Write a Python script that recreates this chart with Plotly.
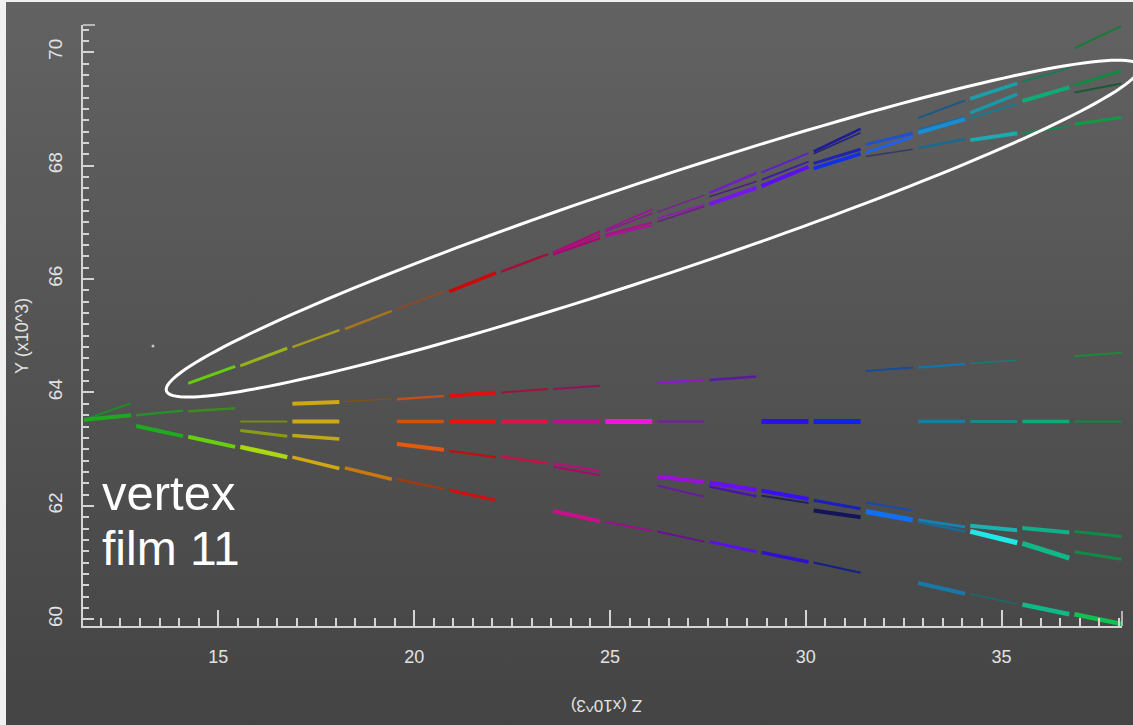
import base64
import math
import plotly.graph_objects as go

# ---------------------------------------------------------------------------
# Geometry of the emulsion stack: start of each film along Z (x10^3 um)
# ---------------------------------------------------------------------------
film_z = [11.57, 12.90, 14.23, 15.56, 16.89, 18.23, 19.56, 20.89, 22.22, 23.55,
          24.88, 26.21, 27.54, 28.87, 30.20, 31.53, 32.87, 34.20, 35.53, 36.86]
film_len = 1.20

x_ticks = [15, 20, 25, 30, 35]
y_ticks = [60, 62, 64, 66, 68, 70]
x_range = [11.544, 38.075]
y_range = [59.882, 70.48]

# ---------------------------------------------------------------------------
# Reconstructed base-tracks: film index, Y at film entry, Y at film exit
# ---------------------------------------------------------------------------
# forward bundle (the highlighted shower)
a_film = [0, 2, 3, 4, 5, 6, 7, 8,
          9, 9, 9,
          10, 10, 10, 10,
          11, 11, 11,
          12, 12, 12,
          13, 13, 13,
          14, 14, 14, 14,
          15, 15, 15,
          16, 16, 16, 16,
          17, 17, 17, 17,
          18, 18, 18,
          19, 19, 19, 19]
a_y_in = [63.52, 64.16, 64.47, 64.80, 65.12, 65.47, 65.78, 66.13,
          66.47, 66.45, 66.43,
          66.87, 66.84, 66.78, 66.75,
          67.18, 67.07, 67.01,
          67.52, 67.45, 67.32,
          67.88, 67.75, 67.64,
          68.25, 68.21, 68.04, 67.95,
          68.37, 68.23, 68.16,
          68.84, 68.63, 68.58, 68.31,
          69.18, 68.93, 68.84, 68.45,
          69.48, 69.14, 68.58,
          70.07, 69.42, 69.29, 68.73]
a_y_out = [63.81, 64.46, 64.78, 65.10, 65.44, 65.78, 66.11, 66.44,
           66.84, 66.78, 66.72,
           67.23, 67.16, 67.00, 66.95,
           67.48, 67.31, 67.28,
           67.87, 67.72, 67.61,
           68.22, 68.07, 67.98,
           68.65, 68.58, 68.29, 68.21,
           68.57, 68.51, 68.29,
           69.15, 68.86, 68.82, 68.47,
           69.45, 69.26, 69.09, 68.57,
           69.72, 69.38, 68.69,
           70.46, 69.67, 69.45, 68.85]
a_color = ["#1f8a2a", "#66cc11", "#99b11c", "#a89a1e", "#a8731e", "#8a4a26", "#cc0808", "#a0123a",
           "#aa0a77", "#b0107a", "#a00a70",
           "#a0109a", "#8a1a8a", "#a81088", "#b0109a",
           "#7a2090", "#8a22a8", "#6a2080",
           "#7020c0", "#50207a", "#7418e8",
           "#5a22c8", "#40209a", "#5a10f0",
           "#1a1a9a", "#22227a", "#2222b0", "#1030e8",
           "#2050d0", "#2260e8", "#333a66",
           "#1a5a88", "#1a6aa0", "#1a8cd0", "#1a6a90",
           "#1aa0a8", "#1a98a8", "#1a7a90", "#1aaab0",
           "#1a7a58", "#10aa78", "#138855",
           "#1a7a3a", "#108a40", "#1a5a38", "#109a44"]
a_width = [2, 3, 3, 2.5, 2.5, 2, 3.5, 2.5,
           2, 2.5, 2,
           1.5, 1.5, 2, 2,
           1.5, 2, 1.5,
           2.5, 1.5, 4,
           2, 2, 4,
           2.5, 1.5, 3, 3.5,
           3, 3, 1.5,
           2, 2, 4, 2.5,
           3.5, 3.5, 2, 4,
           2, 4, 2,
           2, 3, 2, 3]

# slightly rising track
b_film = [0, 1, 2, 4, 5, 6, 7, 8, 9, 11, 12, 15, 16, 17, 19]
b_y_in = [63.52, 63.60, 63.67, 63.80, 63.84, 63.88, 63.94, 64.00, 64.06,
          64.17, 64.22, 64.38, 64.44, 64.51, 64.64]
b_y_out = [63.60, 63.68, 63.72, 63.83, 63.89, 63.94, 64.00, 64.06, 64.12,
           64.22, 64.28, 64.44, 64.50, 64.57, 64.70]
b_color = ["#1fa81f", "#2a8f2a", "#3f8a1c", "#d0a812", "#7a5418", "#c0501a", "#e01010",
           "#a0143a", "#90145a", "#8a1cc0", "#5a1aa0", "#1a4a9a", "#1a70a8", "#1a7a78",
           "#1a8a3a"]
b_width = [4, 2.5, 2.5, 4, 1.5, 2.5, 4, 2, 2, 2.5, 2.5, 2, 2.5, 1.5, 2]

# straight-through track
c_film = [3, 4, 6, 7, 8, 9, 10, 11, 13, 14, 16, 17, 18, 19]
c_y_in = [63.49] * 14
c_y_out = [63.49] * 14
c_color = ["#7a8a1a", "#d0a812", "#d05010", "#f01010", "#e0104a", "#b8108a", "#f014e0",
           "#7a1aa8", "#2a10f0", "#1020f0", "#1a7aa8", "#1a8a8a", "#10a878", "#108a40"]
c_width = [2, 4, 3.5, 4.5, 4.5, 3, 5, 2, 5, 5, 3.5, 3, 3.5, 2]

# downward pair
d_film = [3, 4, 6, 7, 8, 9, 9, 11, 12, 13, 14, 15, 16, 17, 18, 19]
d_y_in = [63.33, 63.24, 63.09, 62.97, 62.87, 62.75, 62.69, 62.52, 62.41, 62.27,
          62.10, 62.06, 61.75, 61.65, 61.61, 61.55]
d_y_out = [63.23, 63.18, 62.99, 62.86, 62.75, 62.62, 62.54, 62.42, 62.28, 62.12,
           61.95, 61.92, 61.63, 61.57, 61.53, 61.46]
d_color = ["#8a9a1a", "#c0a818", "#e05a10", "#c01010", "#c8104a", "#b8107a", "#a80a6a",
           "#9a10d8", "#6a10f0", "#3a10f0", "#1a20c0", "#1a48b0", "#1a80b0", "#20b0b0",
           "#10b088", "#108a44"]
d_width = [3, 3.5, 4, 2.5, 2.5, 2, 2, 4, 4.5, 4, 3, 2, 3, 4, 4, 3]

e2_film = [11, 12, 13, 14, 15, 16, 17, 18, 19]
e2_y_in = [62.36, 62.34, 62.18, 61.92, 61.90, 61.72, 61.55, 61.34, 61.19]
e2_y_out = [62.16, 62.17, 62.05, 61.80, 61.75, 61.55, 61.35, 61.08, 61.06]
e2_color = ["#6a1aa0", "#4a14b0", "#22225a", "#14145a", "#1070f0", "#1a6a98", "#20e8e8",
            "#10b888", "#108a44"]
e2_width = [2, 2.5, 2, 4, 5, 2.5, 5, 5, 3]

# steepest downward track
e_film = [1, 2, 3, 4, 5, 6, 7, 9, 10, 11, 12, 13, 14, 16, 17, 18, 19]
e_y_in = [63.41, 63.22, 63.04, 62.86, 62.67, 62.47, 62.28, 61.91, 61.72, 61.55,
          61.37, 61.18, 61.00, 60.64, 60.45, 60.26, 60.09]
e_y_out = [63.23, 63.04, 62.86, 62.66, 62.47, 62.30, 62.10, 61.73, 61.56, 61.37,
           61.19, 61.01, 60.82, 60.45, 60.27, 60.09, 59.92]
e_color = ["#1faa1f", "#66d010", "#aad812", "#d0a812", "#c87810", "#a03a10", "#d01010",
           "#c8108a", "#9a1090", "#6a1090", "#5a10e8", "#3010d0", "#14208a", "#1a78a8",
           "#1a6a70", "#10b888", "#10c050"]
e_width = [4, 4, 4.5, 3.5, 3.5, 2.5, 3, 4, 2, 2, 3, 3.5, 2, 4, 1.5, 4.5, 4.5]

# isolated grain
dot_z = [13.33]
dot_y = [64.82]

# highlight ellipse around the bundle (centre in data units)
ell_z, ell_y = 26.10, 66.89

fig = go.Figure()

track_sets = [
    (a_film, a_y_in, a_y_out, a_color, a_width),
    (b_film, b_y_in, b_y_out, b_color, b_width),
    (c_film, c_y_in, c_y_out, c_color, c_width),
    (d_film, d_y_in, d_y_out, d_color, d_width),
    (e2_film, e2_y_in, e2_y_out, e2_color, e2_width),
    (e_film, e_y_in, e_y_out, e_color, e_width),
]
for films, y_in, y_out, colors, widths in track_sets:
    for k, y0, y1, col, w in zip(films, y_in, y_out, colors, widths):
        z0 = film_z[k]
        fig.add_trace(go.Scatter(
            x=[z0, z0 + film_len], y=[y0, y1], mode="lines",
            line=dict(color=col, width=w), hoverinfo="skip", showlegend=False))

fig.add_trace(go.Scatter(x=dot_z, y=dot_y, mode="markers",
                         marker=dict(color="#c8c8c8", size=3),
                         hoverinfo="skip", showlegend=False))

# ---------------------------------------------------------------------------
# Layout
# ---------------------------------------------------------------------------
W, H = 1133, 725
ml, mr, mt, mb = 83, 11, 25, 99
pw, ph = W - ml - mr, H - mt - mb

bg_svg = (
    f'<svg xmlns="http://www.w3.org/2000/svg" width="{W}" height="{H}">'
    '<defs><linearGradient id="g" x1="0" y1="0" x2="0" y2="1">'
    '<stop offset="0" stop-color="#626262"/><stop offset="1" stop-color="#444444"/>'
    '</linearGradient></defs>'
    f'<rect width="{W}" height="{H}" fill="#f0f0f0"/>'
    f'<rect x="6" y="2" width="{W - 6}" height="{H - 2}" fill="url(#g)"/>'
    '</svg>'
)
bg_uri = "data:image/svg+xml;base64," + base64.b64encode(bg_svg.encode()).decode()

# ellipse outline as a paper-referenced path
cx = (ell_z - x_range[0]) / (x_range[1] - x_range[0])
cy = (ell_y - y_range[0]) / (y_range[1] - y_range[0])
semi_a, semi_b, tilt = 513.0, 47.4, math.radians(18.45)
pts = []
for deg in range(0, 360, 2):
    t = math.radians(deg)
    u, v = semi_a * math.cos(t), semi_b * math.sin(t)
    dx = u * math.cos(tilt) - v * math.sin(tilt)
    dy = u * math.sin(tilt) + v * math.cos(tilt)
    pts.append(f"{cx + dx / pw:.5f},{cy + dy / ph:.5f}")
ellipse_path = "M " + " L ".join(pts) + " Z"

axis_col = "#d4d4d4"
label_col = "#e2e2e2"
font_family = "Liberation Sans, Arial, sans-serif"

fig.update_layout(
    width=W, height=H, autosize=False,
    margin=dict(l=ml, r=mr, t=mt, b=mb, pad=0),
    paper_bgcolor="#555555",
    plot_bgcolor="rgba(0,0,0,0)",
    images=[dict(source=bg_uri, xref="paper", yref="paper",
                 x=-ml / pw, y=1 + mt / ph, sizex=W / pw, sizey=H / ph,
                 xanchor="left", yanchor="top", sizing="stretch", layer="below")],
    shapes=[
        dict(type="path", path=ellipse_path, xref="paper", yref="paper",
             line=dict(color="white", width=3)),
        dict(type="line", xref="paper", yref="paper", x0=1, x1=1, y0=0, y1=15 / ph,
             line=dict(color=axis_col, width=1.5)),
        dict(type="line", xref="paper", yref="paper", x0=0, x1=12 / pw, y0=1, y1=1,
             line=dict(color=axis_col, width=1.5)),
    ],
    annotations=[
        dict(text="vertex", xref="paper", yref="paper", x=(100 - ml) / pw,
             y=(626 - 493) / ph, xanchor="left", yanchor="middle", showarrow=False,
             font=dict(family=font_family, size=49, color="white")),
        dict(text="film 11", xref="paper", yref="paper", x=(100 - ml) / pw,
             y=(626 - 548) / ph, xanchor="left", yanchor="middle", showarrow=False,
             font=dict(family=font_family, size=48, color="white")),
        dict(text="Z (x10^3)", xref="paper", yref="paper", x=(607 - ml) / pw,
             y=(626 - 705) / ph, xanchor="center", yanchor="middle", showarrow=False,
             textangle=180, font=dict(family=font_family, size=17, color=label_col)),
        dict(text="Y (x10^3)", xref="paper", yref="paper", x=(22 - ml) / pw,
             y=(626 - 336) / ph, xanchor="center", yanchor="middle", showarrow=False,
             textangle=-90, font=dict(family=font_family, size=18, color=label_col)),
    ],
    xaxis=dict(range=x_range, showgrid=False, zeroline=False,
               showline=True, linecolor=axis_col, linewidth=2,
               tickmode="array", tickvals=x_ticks, ticktext=[str(v) for v in x_ticks],
               ticks="inside", ticklen=16, tickwidth=1.5, tickcolor=axis_col,
               ticklabelstandoff=13,
               tickfont=dict(family=font_family, size=18, color=label_col),
               minor=dict(tickmode="linear", tick0=0, dtick=0.5, ticks="inside",
                          ticklen=8, tickwidth=1.5, tickcolor=axis_col)),
    yaxis=dict(range=y_range, showgrid=False, zeroline=False,
               showline=True, linecolor=axis_col, linewidth=2,
               tickmode="array", tickvals=y_ticks, ticktext=[str(v) for v in y_ticks],
               ticks="inside", ticklen=11, tickwidth=1.5, tickcolor=axis_col,
               tickangle=-90, ticklabelstandoff=11,
               tickfont=dict(family=font_family, size=19, color=label_col),
               minor=dict(tickmode="linear", tick0=0, dtick=0.2, ticks="inside",
                          ticklen=6, tickwidth=1.5, tickcolor=axis_col)),
)

fig.write_html("out.html")
